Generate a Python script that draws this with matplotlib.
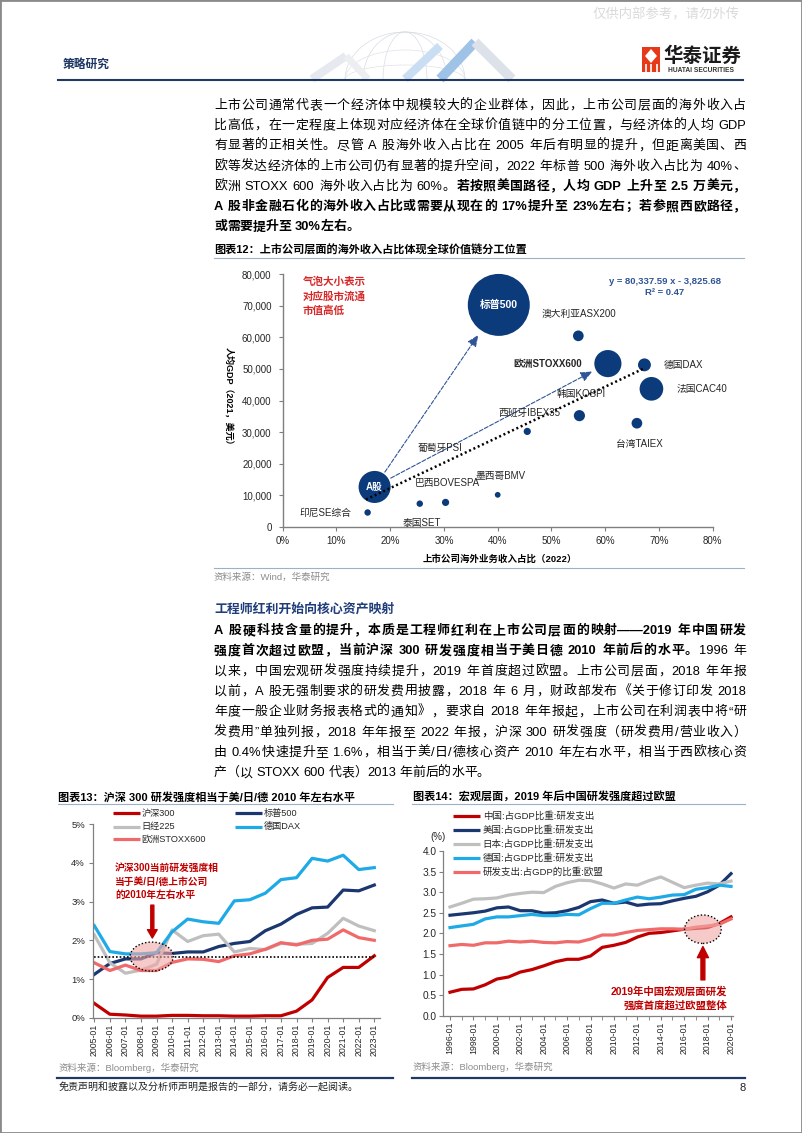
# 华泰证券 策略研究 第8页：海外收入占比气泡图 + 研发强度两张折线图

import numpy as np
import matplotlib
matplotlib.use('Agg')
from matplotlib import pyplot as plt
from matplotlib.patches import Ellipse, Rectangle, Polygon, Arc
from matplotlib.lines import Line2D
from matplotlib.ticker import FuncFormatter, MultipleLocator, FixedLocator

plt.rcParams['font.family'] = ['Liberation Sans', 'Noto Sans CJK SC']
plt.rcParams['axes.unicode_minus'] = False

W, H, DPI = 802, 1133, 100

# ---------------- data ----------------

# 图表12
markets = ['标普500', '澳大利亚ASX200', '欧洲STOXX600', '德国DAX', '法国CAC40', '韩国KOSPI',
           '台湾TAIEX', '西班牙IBEX35', 'A股', '墨西哥BMV', '巴西BOVESPA', '泰国SET', '印尼SE综合']
overseas_share = [0.402, 0.550, 0.605, 0.673, 0.686, 0.552, 0.659, 0.455, 0.171, 0.400, 0.303, 0.255, 0.158]
gdp_pc = [70300, 60500, 51700, 51300, 43700, 35200, 32800, 30200, 12600, 10100, 7700, 7300, 4500]
float_cap = [37.0, 1.1, 7.1, 1.6, 5.4, 1.2, 1.1, 0.5, 9.9, 0.32, 0.5, 0.4, 0.4]  # 万亿美元(估)
fit_slope, fit_icpt = 80337.59, -3825.68
fit_range = [0.155, 0.674]

# 图表13 (研发费用/营业收入, %)
years13 = list(range(2005, 2024))
hs300 = [0.37, 0.09, 0.07, 0.04, 0.04, 0.06, 0.06, 0.05, 0.05, 0.04, 0.04, 0.05, 0.05, 0.17, 0.46, 1.04, 1.30, 1.30, 1.60]
sp500 = [1.12, 1.40, 1.52, 1.52, 1.68, 1.66, 1.70, 1.70, 1.84, 1.92, 1.97, 2.25, 2.42, 2.67, 2.84, 2.86, 3.30, 3.28, 3.43]
nikkei = [2.14, 1.42, 1.15, 1.23, 1.38, 2.27, 1.97, 2.12, 2.16, 1.70, 1.79, 1.76, 1.92, 1.90, 1.92, 2.18, 2.57, 2.37, 2.25]
dax = [2.38, 1.71, 1.65, 1.65, 1.68, 2.22, 2.55, 2.48, 2.44, 3.02, 3.05, 3.22, 3.57, 3.62, 4.12, 4.05, 4.20, 3.83, 3.88]
stoxx = [1.42, 1.22, 1.36, 1.22, 1.22, 1.43, 1.52, 1.51, 1.45, 1.60, 1.65, 1.77, 1.94, 1.88, 2.00, 2.03, 2.27, 2.07, 2.00]
hs300_now = 1.58

# 图表14 (研发支出占GDP, %)
years14 = list(range(1996, 2021))
china = [0.57, 0.64, 0.65, 0.75, 0.89, 0.94, 1.06, 1.12, 1.21, 1.31, 1.37, 1.37, 1.45, 1.66, 1.71, 1.78, 1.91, 2.00, 2.02, 2.06, 2.10, 2.12, 2.14, 2.24, 2.40]
usa = [2.44, 2.47, 2.50, 2.54, 2.62, 2.64, 2.55, 2.55, 2.49, 2.50, 2.55, 2.63, 2.77, 2.81, 2.73, 2.76, 2.68, 2.71, 2.72, 2.79, 2.85, 2.90, 3.01, 3.17, 3.45]
japan = [2.64, 2.73, 2.83, 2.84, 2.86, 2.93, 2.97, 3.00, 2.99, 3.14, 3.23, 3.29, 3.28, 3.20, 3.10, 3.20, 3.17, 3.28, 3.37, 3.24, 3.11, 3.17, 3.22, 3.20, 3.27]
germany = [2.14, 2.18, 2.22, 2.35, 2.40, 2.40, 2.43, 2.46, 2.43, 2.43, 2.46, 2.45, 2.60, 2.73, 2.73, 2.81, 2.88, 2.84, 2.88, 2.93, 2.94, 3.07, 3.11, 3.17, 3.14]
eu = [1.70, 1.73, 1.71, 1.77, 1.77, 1.81, 1.79, 1.81, 1.78, 1.77, 1.80, 1.79, 1.86, 1.96, 1.96, 2.02, 2.07, 2.09, 2.11, 2.11, 2.10, 2.15, 2.18, 2.22, 2.35]

RED, NAVY, GREY, SKY, PINK = '#c00000', '#1b3770', '#bfbfbf', '#1eaae6', '#f06a6a'

# ---------------- page helpers ----------------

fig = plt.figure(figsize=(W / DPI, H / DPI), dpi=DPI)
renderer = fig.canvas.get_renderer()

def fx(x):
    return x / W

def fy(y):
    return 1 - y / H

def txt(x, y, s, **kw):
    kw.setdefault('va', 'center')
    return fig.text(fx(x), fy(y), s, **kw)

def hline(x0, x1, y, color, lw):
    fig.add_artist(Line2D([fx(x0), fx(x1)], [fy(y), fy(y)], transform=fig.transFigure, color=color, lw=lw))

def seg(pts, color, lw, alpha=1.0):
    fig.add_artist(Line2D([fx(p[0]) for p in pts], [fy(p[1]) for p in pts], transform=fig.transFigure,
                          color=color, lw=lw, alpha=alpha, solid_capstyle='butt'))

def add_ax(left, top, right, bottom):
    return fig.add_axes([fx(left), fy(bottom), (right - left) / W, (bottom - top) / H])

def put_line(segs, y, x0=214, x1=746, size=9.3, justify=True, color='black'):
    # 两端对齐：中文逐字、西文按词，均分剩余空隙
    toks = []
    for text, bold in segs:
        buf = ''
        for ch in text:
            wide = ord(ch) > 0x2E7F or ch in '“”'
            if ch == ' ' or wide:
                if buf:
                    toks.append((buf, bold))
                    buf = ''
                toks.append((ch, bold))
            else:
                buf += ch
        if buf:
            toks.append((buf, bold))
    arts, widths = [], []
    for s, bold in toks:
        if s == ' ':
            arts.append(None)
            widths.append(size * 0.28 / 72 * DPI)
            continue
        t = fig.text(fx(x0), fy(y + 4.6), s, fontsize=size, fontweight='bold' if bold else 'normal',
                     ha='left', va='baseline', color=color)
        arts.append(t)
        widths.append(t.get_window_extent(renderer=renderer).width)
    gap = (x1 - x0 - sum(widths)) / (len(toks) - 1) if justify else 0
    x = x0
    for t, w in zip(arts, widths):
        if t is not None:
            t.set_x(fx(x))
        x += w + gap

# ---------------- page frame & header ----------------

fig.add_artist(Rectangle((0, 0), 1, 1, transform=fig.transFigure, fill=False, edgecolor='#8a8a8a', lw=2))
txt(593, 15, '仅供内部参考，请勿外传', fontsize=9.6, color='#dadada')

# 页眉装饰（地球 + 折线）
for wd in [120, 84, 44]:
    fig.add_artist(Arc((fx(405), fy(80)), wd / W, 96 / H, theta1=0, theta2=180,
                       transform=fig.transFigure, color='#d8dce3', lw=0.5))
for hh in [60, 30]:
    fig.add_artist(Arc((fx(405), fy(80)), 120 / W, hh / H, theta1=0, theta2=180,
                       transform=fig.transFigure, color='#dfe2e8', lw=0.5))
seg([(312, 79), (346, 56)], '#e6e9ef', 6)
seg([(405, 79), (440, 46)], '#c9def2', 6)
seg([(440, 79), (475, 42)], '#9fc3e6', 7)
seg([(475, 42), (512, 79)], '#dde2ea', 7)
seg([(346, 56), (368, 79)], '#eceef2', 5)

txt(63, 65, '策略研究', fontsize=8.5, fontweight='bold', color='#1f3864')
hline(58, 743, 79.5, '#1f3864', 1.5)

# logo
fig.add_artist(Rectangle((fx(642), fy(72)), 18 / W, 25 / H, transform=fig.transFigure, color='#e5391a', lw=0))
fig.add_artist(Polygon([(fx(651), fy(49)), (fx(657), fy(56)), (fx(651), fy(63)), (fx(645), fy(56))],
                       transform=fig.transFigure, color='white', lw=0))
for xb in [645.5, 651, 656.5]:
    seg([(xb, 64), (xb, 72)], 'white', 1.2)
txt(663, 56.5, '华泰证券', fontsize=14, fontweight='bold', color='#1a1a1a')
txt(668, 70.5, 'HUATAI SECURITIES', fontsize=4.8, fontweight='bold', color='#333333')

# ---------------- 正文一 ----------------

para1 = [
    [('上市公司通常代表一个经济体中规模较大的企业群体，因此，上市公司层面的海外收入占', False)],
    [('比高低，在一定程度上体现对应经济体在全球价值链中的分工位置，与经济体的人均 GDP', False)],
    [('有显著的正相关性。尽管 A 股海外收入占比在 2005 年后有明显的提升，但距离美国、西', False)],
    [('欧等发达经济体的上市公司仍有显著的提升空间，2022 年标普 500 海外收入占比为 40%、', False)],
    [('欧洲 STOXX 600 海外收入占比为 60%。', False), ('若按照美国路径，人均 GDP 上升至 2.5 万美元，', True)],
    [('A 股非金融石化的海外收入占比或需要从现在的 17%提升至 23%左右；若参照西欧路径，', True)],
    [('或需要提升至 30%左右。', True)],
]
for i, line in enumerate(para1):
    put_line(line, 104 + 20.3 * i, justify=(i < len(para1) - 1))

# ---------------- 图表12 ----------------

txt(214, 250, '图表12：上市公司层面的海外收入占比体现全球价值链分工位置', fontsize=8, fontweight='bold')
hline(214, 744, 258, '#9db0c9', 0.8)

ax = add_ax(282.7, 274.3, 712.7, 526.7)
ax.set_xlim(0, 0.8)
ax.set_ylim(0, 80000)
sizes = np.array(float_cap) * 53.8
ax.scatter(overseas_share, gdp_pc, s=sizes, color='#0c3b7c', edgecolors='none', zorder=3, clip_on=False)

xs = np.array(fit_range)
ax.plot(xs, fit_slope * xs + fit_icpt, linestyle=(0, (0.8, 1.1)), color='black', lw=1.8, zorder=5)

for start, end in [((0.19, 17300), (0.364, 60800)), ((0.201, 15400), (0.576, 49200))]:
    ax.annotate('', xy=end, xytext=start, zorder=4,
                arrowprops=dict(arrowstyle='-|>,head_length=0.7,head_width=0.3', linestyle='--',
                                lw=0.8, color='#2e5597', shrinkA=0, shrinkB=0))

ax.text(overseas_share[0], gdp_pc[0], '标普500', color='white', fontsize=7.5, fontweight='bold',
        ha='center', va='center', zorder=6)
ax.text(overseas_share[8], gdp_pc[8], 'A股', color='white', fontsize=7, fontweight='bold',
        ha='center', va='center', zorder=6)

bubble_labels = [
    ('澳大利亚ASX200', 0.551, 67400, 'center', 'normal'),
    ('欧洲STOXX600', 0.556, 51700, 'right', 'bold'),
    ('德国DAX', 0.709, 51300, 'left', 'normal'),
    ('法国CAC40', 0.732, 43700, 'left', 'normal'),
    ('韩国KOSPI', 0.510, 42000, 'left', 'normal'),
    ('西班牙IBEX35', 0.402, 36200, 'left', 'normal'),
    ('台湾TAIEX', 0.620, 26200, 'left', 'normal'),
    ('葡萄牙PSI', 0.251, 24900, 'left', 'normal'),
    ('墨西哥BMV', 0.359, 16200, 'left', 'normal'),
    ('巴西BOVESPA', 0.246, 13800, 'left', 'normal'),
    ('印尼SE综合', 0.128, 4500, 'right', 'normal'),
    ('泰国SET', 0.223, 1200, 'left', 'normal'),
]
for name, lx, ly, ha, wt in bubble_labels:
    ax.text(lx, ly, name, fontsize=7, ha=ha, va='center', fontweight=wt, color='#262626', zorder=6)

ax.xaxis.set_major_locator(MultipleLocator(0.1))
ax.yaxis.set_major_locator(MultipleLocator(10000))
ax.xaxis.set_major_formatter(FuncFormatter(lambda v, p: f'{v * 100:.0f}%'))
ax.yaxis.set_major_formatter(FuncFormatter(lambda v, p: f'{int(v):,}'))
for sp in ['top', 'right']:
    ax.spines[sp].set_visible(False)
for sp in ['left', 'bottom']:
    ax.spines[sp].set_color('#7f7f7f')
    ax.spines[sp].set_linewidth(1.0)
ax.tick_params(length=3, color='#7f7f7f', labelsize=7, colors='#262626')
ax.tick_params(axis='x', pad=3.5)
ax.tick_params(axis='y', pad=5)
ax.set_facecolor('none')

txt(665, 282, 'y = 80,337.59 x - 3,825.68', fontsize=6.8, fontweight='bold', color='#2f5597', ha='center')
txt(665, 292.5, 'R² = 0.47', fontsize=6.8, fontweight='bold', color='#2f5597', ha='center')
for i, s in enumerate(['气泡大小表示', '对应股市流通', '市值高低']):
    txt(303, 282 + 14.2 * i, s, fontsize=7.6, fontweight='bold', color='#d62828')

txt(229, 398, '人均GDP（2021，美元）', rotation=270, fontsize=6.5, fontweight='bold', ha='center')
txt(500, 559, '上市公司海外业务收入占比（2022）', fontsize=6.8, fontweight='bold', ha='center')
hline(214, 744, 568.3, '#9db0c9', 0.8)
txt(214, 577, '资料来源：Wind，华泰研究', fontsize=6.8, color='#8c8c8c')

# ---------------- 正文二 ----------------

txt(214, 609, '工程师红利开始向核心资产映射', fontsize=9.3, fontweight='bold', color='#1f3d7a')
para2 = [
    [('A 股硬科技含量的提升，本质是工程师红利在上市公司层面的映射——2019 年中国研发', True)],
    [('强度首次超过欧盟，当前沪深 300 研发强度相当于美日德 2010 年前后的水平。', True), ('1996 年', False)],
    [('以来，中国宏观研发强度持续提升，2019 年首度超过欧盟。上市公司层面，2018 年年报', False)],
    [('以前，A 股无强制要求的研发费用披露，2018 年 6 月，财政部发布《关于修订印发 2018', False)],
    [('年度一般企业财务报表格式的通知》，要求自 2018 年年报起，上市公司在利润表中将“研', False)],
    [('发费用”单独列报，2018 年年报至 2022 年报，沪深 300 研发强度（研发费用/营业收入）', False)],
    [('由 0.4%快速提升至 1.6%，相当于美/日/德核心资产 2010 年左右水平，相当于西欧核心资', False)],
    [('产（以 STOXX 600 代表）2013 年前后的水平。', False)],
]
for i, line in enumerate(para2):
    put_line(line, 629.5 + 20.3 * i, justify=(i < len(para2) - 1))

# ---------------- 图表13 ----------------

txt(58, 797, '图表13：沪深 300 研发强度相当于美/日/德 2010 年左右水平', fontsize=8, fontweight='bold')
hline(58, 393, 804.3, '#9db0c9', 0.8)

ax2 = add_ax(93.3, 824.3, 380, 1017.7)
series13 = [(hs300, RED, '沪深300'), (sp500, NAVY, '标普500'), (nikkei, GREY, '日经225'),
            (dax, SKY, '德国DAX'), (stoxx, PINK, '欧洲STOXX600')]
for vals, c, lab in series13:
    ax2.plot(years13, vals, color=c, lw=2.3, solid_joinstyle='round')
ax2.plot([years13[0], years13[-1]], [hs300_now, hs300_now], linestyle=(0, (1, 1.2)), color='black', lw=1.2)
ax2.add_patch(Ellipse((2008.69, 1.58), 2.77, 0.75, facecolor='#f2a7a7', alpha=0.6, edgecolor='none', zorder=4))
ax2.add_patch(Ellipse((2008.69, 1.58), 2.77, 0.75, fill=False, edgecolor='black', linestyle=(0, (1, 1.5)),
                      lw=1.0, zorder=5))
ax2.annotate('', xy=(2008.73, 2.06), xytext=(2008.73, 2.91),
             arrowprops=dict(facecolor=RED, edgecolor=RED, width=2.2, headwidth=7, headlength=6))
for i, s in enumerate(['沪深300当前研发强度相', '当于美/日/德上市公司', '的2010年左右水平']):
    ax2.text(2006.34, 3.87 - 0.35 * i, s, fontsize=7, fontweight='bold', color=RED, va='center')

ax2.set_xlim(2004.936, 2023.366)
ax2.set_ylim(0, 5)
ax2.xaxis.set_major_locator(FixedLocator(years13))
ax2.set_xticklabels([f'{y}-01' for y in years13], rotation=90)
ax2.yaxis.set_major_locator(MultipleLocator(1))
ax2.yaxis.set_major_formatter(FuncFormatter(lambda v, p: f'{v:.0f}%'))
for sp in ['top', 'right']:
    ax2.spines[sp].set_visible(False)
for sp in ['left', 'bottom']:
    ax2.spines[sp].set_color('#808080')
    ax2.spines[sp].set_linewidth(0.9)
ax2.tick_params(length=3, color='#808080', labelsize=6.3, colors='#262626', pad=1.5)
ax2.tick_params(axis='y', labelsize=6.8, pad=3)
ax2.set_facecolor('none')

leg13 = [(112.7, 813.3, 0), (112.7, 839, 4), (112.7, 826.7, 2), (235, 813.3, 1), (235, 826.7, 3)]
for x0, y0, k in leg13:
    vals, c, lab = series13[k]
    seg([(x0, y0), (x0 + 27, y0)], c, 2.3)
    txt(x0 + 29, y0, lab, fontsize=6.6, color='#262626')

txt(58, 1067.7, '资料来源：Bloomberg，华泰研究', fontsize=6.8, color='#8c8c8c')
hline(57, 393, 1078, '#1f3864', 1.6)

# ---------------- 图表14 ----------------

txt(413, 797, '图表14：宏观层面，2019 年后中国研发强度超过欧盟', fontsize=8, fontweight='bold')
hline(412, 745, 804.3, '#9db0c9', 0.8)

ax3 = add_ax(443.3, 851, 733, 1015.7)
series14 = [(china, RED, '中国:占GDP比重:研发支出'), (usa, NAVY, '美国:占GDP比重:研发支出'),
            (japan, GREY, '日本:占GDP比重:研发支出'), (germany, SKY, '德国:占GDP比重:研发支出'),
            (eu, PINK, '研发支出:占GDP的比重:欧盟')]
for vals, c, lab in series14:
    ax3.plot(years14, vals, color=c, lw=2.3, solid_joinstyle='round')
ax3.add_patch(Ellipse((2017.6, 2.1), 3.13, 0.69, facecolor='#f2a7a7', alpha=0.6, edgecolor='none', zorder=4))
ax3.add_patch(Ellipse((2017.6, 2.1), 3.13, 0.69, fill=False, edgecolor='black', linestyle=(0, (1, 1.5)),
                      lw=1.0, zorder=5))
ax3.annotate('', xy=(2017.6, 1.68), xytext=(2017.6, 0.87),
             arrowprops=dict(facecolor=RED, edgecolor=RED, width=2.8, headwidth=8, headlength=8))
ax3.text(2019.65, 0.58, '2019年中国宏观层面研发', fontsize=7.5, fontweight='bold', color=RED, ha='right', va='center')
ax3.text(2019.65, 0.24, '强度首度超过欧盟整体', fontsize=7.5, fontweight='bold', color=RED, ha='right', va='center')

ax3.set_xlim(1995.428, 2020.17)
ax3.set_ylim(0, 4)
ax3.xaxis.set_major_locator(FixedLocator(years14[::2]))
ax3.set_xticklabels([f'{y}-01' for y in years14[::2]], rotation=90)
ax3.xaxis.set_minor_locator(FixedLocator(years14[1::2]))
ax3.yaxis.set_major_locator(MultipleLocator(0.5))
ax3.yaxis.set_major_formatter(FuncFormatter(lambda v, p: f'{v:.1f}'))
for sp in ['top', 'right']:
    ax3.spines[sp].set_visible(False)
for sp in ['left', 'bottom']:
    ax3.spines[sp].set_color('#808080')
    ax3.spines[sp].set_linewidth(0.9)
ax3.tick_params(which='both', length=3, color='#808080', labelsize=6.3, colors='#262626', pad=1.5)
ax3.tick_params(axis='y', labelsize=7.3, pad=2)
ax3.set_facecolor('none')
txt(438, 837, '(%)', fontsize=7, ha='center', color='#262626')

for i, (vals, c, lab) in enumerate(series14):
    y0 = 815.7 + 14.1 * i
    seg([(453, y0), (480, y0)], c, 2.3)
    txt(482.7, y0, lab, fontsize=6.8, color='#262626')

txt(413, 1067, '资料来源：Bloomberg，华泰研究', fontsize=6.8, color='#8c8c8c')
hline(412, 745, 1078, '#1f3864', 1.6)

# ---------------- footer ----------------

txt(59, 1088, '免责声明和披露以及分析师声明是报告的一部分，请务必一起阅读。', fontsize=7.2, style='italic', color='#222222')
txt(740, 1088, '8', fontsize=8, color='#222222')

fig.savefig('out.png', dpi=DPI)
